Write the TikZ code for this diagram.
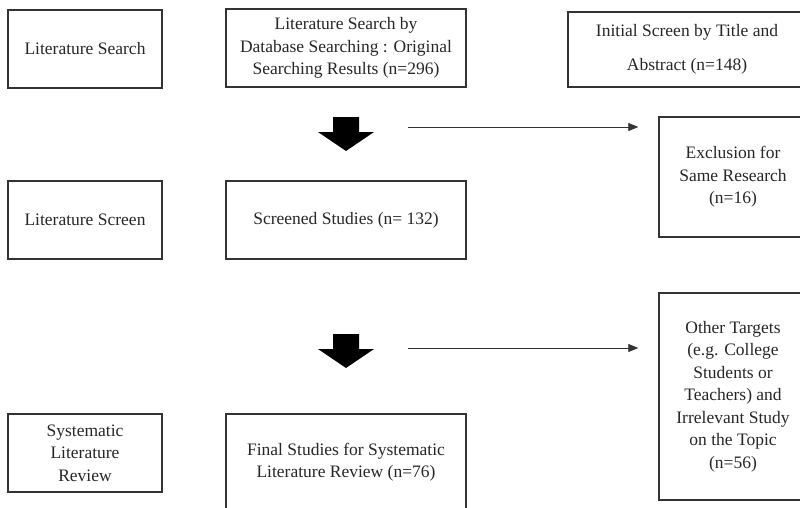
\documentclass[tikz,border=0pt]{standalone}
\usepackage{fontspec}
\setmainfont{Liberation Serif}
\usetikzlibrary{arrows.meta}
\tikzset{
    box/.style={draw=black!80, line width=1.4pt, align=center, text=black!85,
        font=\fontsize{17.5}{22.5}\selectfont, inner sep=0pt},
    side/.style={box, minimum width=154pt, minimum height=78pt},
    mid/.style={box, minimum width=240pt, minimum height=78pt},
    excl/.style={box, minimum width=148pt},
    thin arrow/.style={-{Triangle[length=10pt,width=8pt]}, line width=0.8pt, black!80, shorten >=20pt},
    pics/downarrow/.style={code={
        \fill (-13,0) -- (13,0) -- (13,15) -- (28,15) -- (0,34) -- (-28,15) -- (-13,15) -- cycle;
    }},
}

\begin{document}
\begin{tikzpicture}[x=1pt, y=-1pt]
    \useasboundingbox (0,0) rectangle (800,507);
    \clip (0,0) rectangle (800,507);
    % first row
    \node[side] (lsearch) at (85,49) {Literature Search};
    \node[mid] (dbsearch) at (346,48) {Literature Search by\\Database Searching : Original\\Searching Results (n=296)};
    \node[box, minimum width=238pt, minimum height=75pt, font=\fontsize{17.5}{34}\selectfont] (initial) at (687,49.5) {Initial Screen by Title and\\Abstract (n=148)};
    \node[excl, minimum height=120pt] (exsame) at (733,177) {Exclusion for\\Same Research\\(n=16)};
    % second row
    \node[side] (lscreen) at (85,220) {Literature Screen};
    \node[mid] (screened) at (346,220) {Screened Studies (n= 132)};
    \node[excl, minimum height=207pt] (exother) at (733,396.5) {Other Targets\\(e.g. College\\Students or\\Teachers) and\\Irrelevant Study\\on the Topic\\(n=56)};
    % third row
    \node[side] (slr) at (85,453) {Systematic\\Literature\\Review};
    \node[mid, minimum height=96pt] (final) at (346,462) {Final Studies for Systematic\\Literature Review (n=76)};

    \pic at (346,117) {downarrow};
    \pic at (346,334) {downarrow};

    \coordinate (from1) at (408,127);
    \coordinate (from2) at (408,348);
    \draw[thin arrow] (from1) -- (from1 -| exsame.west);
    \draw[thin arrow] (from2) -- (from2 -| exother.west);
\end{tikzpicture}
\end{document}
